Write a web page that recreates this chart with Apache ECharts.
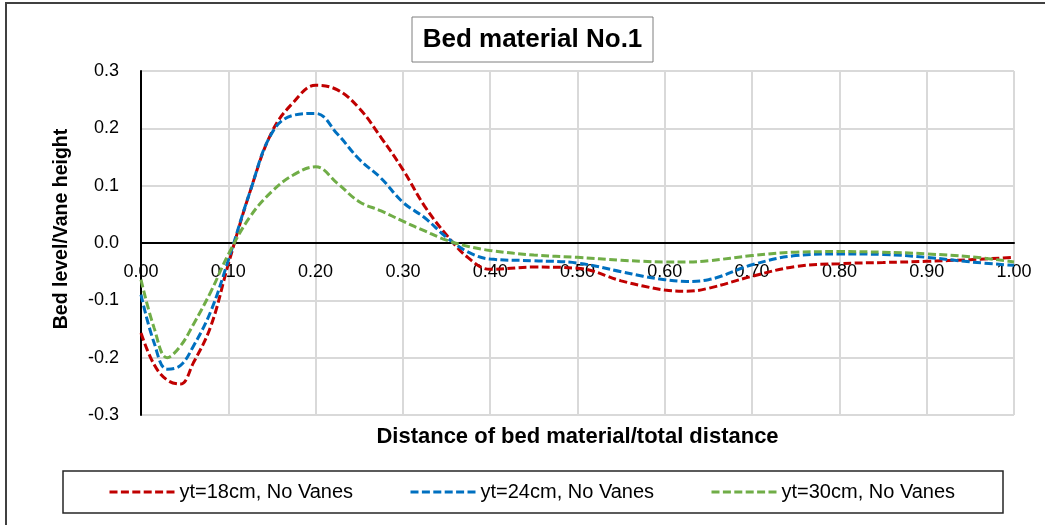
<!DOCTYPE html>
<html>
<head>
<meta charset="utf-8">
<script src="https://cdn.jsdelivr.net/npm/echarts@6/dist/echarts.min.js"></script>
<style>
  html, body { margin: 0; padding: 0; background: #ffffff; }
  #chart { width: 1045px; height: 525px; }
</style>
</head>
<body>
<div id="chart"></div>
<script>
// Relative distance along the bed (shared by all three profiles)
const xs = [0, 0.015, 0.03, 0.045, 0.06, 0.08, 0.10, 0.125, 0.15, 0.175, 0.20, 0.225, 0.25, 0.275, 0.30,
            0.325, 0.35, 0.375, 0.40, 0.45, 0.50, 0.55, 0.575, 0.60, 0.625, 0.65, 0.70, 0.75, 0.80, 0.85, 0.90, 0.95, 1.00];

// Bed level / vane height for each flow depth
const yt18 = [-0.157, -0.212, -0.239, -0.246, -0.209, -0.145, -0.037, 0.090, 0.194, 0.246, 0.275, 0.267, 0.235, 0.184, 0.128,
              0.064, 0.014, -0.026, -0.046, -0.042, -0.044, -0.066, -0.075, -0.082, -0.084, -0.079, -0.058, -0.041, -0.036, -0.034, -0.032, -0.029, -0.025];
const yt24 = [-0.090, -0.174, -0.220, -0.214, -0.180, -0.119, -0.030, 0.090, 0.192, 0.223, 0.226, 0.190, 0.146, 0.113, 0.071,
              0.044, 0.010, -0.016, -0.028, -0.031, -0.035, -0.050, -0.058, -0.064, -0.067, -0.064, -0.038, -0.022, -0.019, -0.020, -0.025, -0.033, -0.039];
const yt30 = [-0.064, -0.148, -0.200, -0.180, -0.142, -0.085, -0.020, 0.046, 0.090, 0.119, 0.133, 0.104, 0.072, 0.056, 0.038,
              0.021, 0.005, -0.006, -0.013, -0.021, -0.025, -0.030, -0.032, -0.033, -0.033, -0.031, -0.022, -0.016, -0.015, -0.016, -0.019, -0.024, -0.033];

const seriesNames = ['yt=18cm, No Vanes', 'yt=24cm, No Vanes', 'yt=30cm, No Vanes'];
const seriesColors = ['#C00000', '#0070C0', '#70AD47'];
const seriesValues = [yt18, yt24, yt30];

const chartTitle = 'Bed material No.1';
const xTitle = 'Distance of bed material/total distance';
const yTitle = 'Bed level/Vane height';

const FONT = '"Liberation Sans", Arial, sans-serif';
const DASH = [8, 3.4];

const chart = echarts.init(document.getElementById('chart'), null, { renderer: 'canvas' });

const series = seriesValues.map((vals, i) => ({
  name: seriesNames[i],
  type: 'line',
  data: xs.map((x, k) => [x, vals[k]]),
  smooth: 0.4,
  symbol: 'none',
  lineStyle: { color: seriesColors[i], width: 3, type: DASH },
  itemStyle: { color: seriesColors[i] },
  z: 3
}));

// one legend block per series so each entry sits at its own spot
const legendLefts = [108, 409, 710];
const legends = seriesNames.map((n, i) => ({
  data: [n],
  left: legendLefts[i],
  top: 482,
  padding: 0,
  itemWidth: 65,
  itemHeight: 16,
  itemGap: 0,
  itemStyle: { opacity: 0 },
  lineStyle: { color: seriesColors[i], width: 3, type: DASH },
  textStyle: { fontFamily: FONT, fontSize: 20, color: '#000' },
  selectedMode: false
}));

const option = {
  animation: false,
  backgroundColor: '#ffffff',
  grid: { left: 141, right: 31, top: 71, bottom: 110, containLabel: false },
  legend: legends,
  xAxis: {
    type: 'value',
    min: 0, max: 1, interval: 0.1,
    // axis sits on the zero level of the y scale
    offset: -172,
    axisLine: { show: true, onZero: false, lineStyle: { color: '#000', width: 2 } },
    axisTick: { show: false },
    axisLabel: {
      margin: 20, fontFamily: FONT, fontSize: 18, color: '#000',
      formatter: v => v.toFixed(2)
    },
    splitLine: { show: true, lineStyle: { color: '#D9D9D9', width: 2 } }
  },
  yAxis: {
    type: 'value',
    min: -0.3, max: 0.3, interval: 0.1,
    axisLine: { show: true, onZero: false, lineStyle: { color: '#000', width: 2 } },
    axisTick: { show: false },
    axisLabel: {
      margin: 22, fontFamily: FONT, fontSize: 18, color: '#000',
      formatter: v => (Math.abs(v) < 1e-9 ? 0 : v).toFixed(1)
    },
    splitLine: { show: true, lineStyle: { color: '#D9D9D9', width: 2 } }
  },
  graphic: [
    // outer chart frame
    { type: 'rect', shape: { x: 6, y: 3, width: 1100, height: 600 }, style: { fill: 'none', stroke: '#404040', lineWidth: 2 }, silent: true, z: 0 },
    // title box
    { type: 'rect', shape: { x: 412, y: 17, width: 241, height: 45 }, style: { fill: '#fff', stroke: '#7F7F7F', lineWidth: 1 }, silent: true, z: 10 },
    { type: 'text', x: 532.5, y: 40, style: { text: chartTitle, fontFamily: FONT, fontSize: 26, fontWeight: 'bold', fill: '#000', textAlign: 'center', textVerticalAlign: 'middle' }, silent: true, z: 11 },
    // axis titles
    { type: 'text', x: 577.5, y: 437, style: { text: xTitle, fontFamily: FONT, fontSize: 22, fontWeight: 'bold', fill: '#000', textAlign: 'center', textVerticalAlign: 'middle' }, silent: true, z: 10 },
    { type: 'text', x: 62, y: 229, rotation: Math.PI / 2, style: { text: yTitle, fontFamily: FONT, fontSize: 19.5, fontWeight: 'bold', fill: '#000', textAlign: 'center', textVerticalAlign: 'middle' }, silent: true, z: 10 },
    // legend frame
    { type: 'rect', shape: { x: 63, y: 471, width: 940, height: 42 }, style: { fill: 'none', stroke: '#262626', lineWidth: 1.5 }, silent: true, z: 10 }
  ],
  series: series
};

chart.setOption(option);
</script>
</body>
</html>
